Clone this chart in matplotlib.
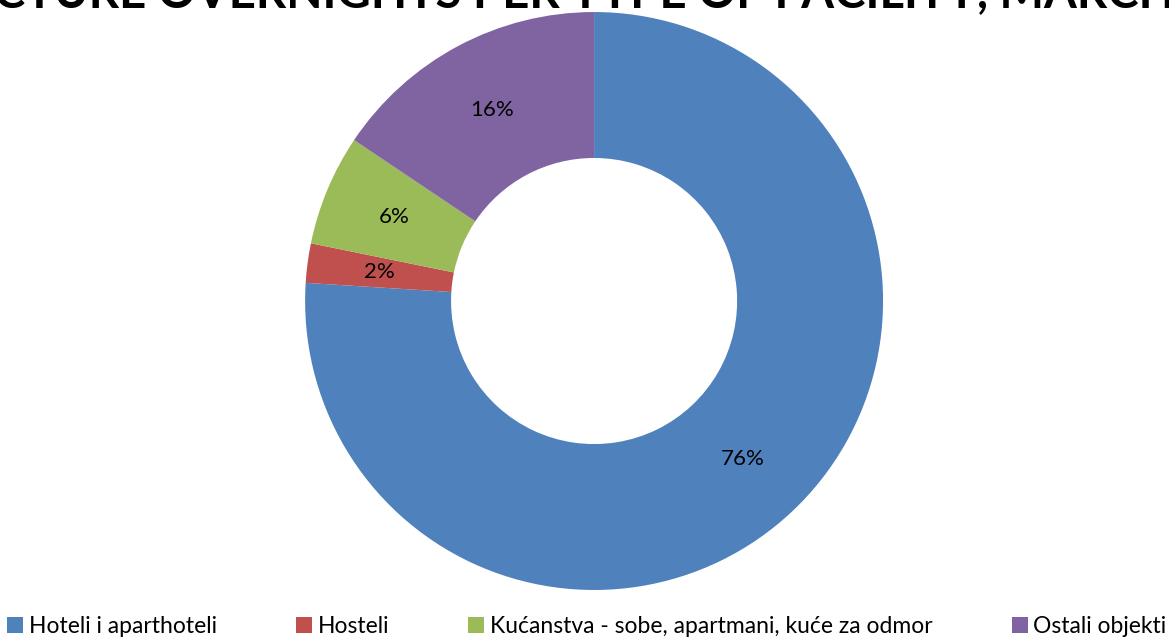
import matplotlib
matplotlib.use('Agg')
import matplotlib.pyplot as plt

# data
categories = ['Hoteli i aparthoteli', 'Hosteli',
              'Kućanstva - sobe, apartmani, kuće za odmor', 'Ostali objekti']
shares = [76.0, 2.2, 6.2, 15.6]
colors = ['#4F81BD', '#C0504D', '#9BBB59', '#8064A2']
title = 'STRUCTURE OVERNIGHTS PER TYPE OF FACILITY, MARCH 2014'

plt.rcParams['font.family'] = ['Lato', 'DejaVu Sans']

fig = plt.figure(figsize=(11.69, 6.38), dpi=100)
ax = fig.add_axes([0.261, 0.0752, 0.4944, 0.906])

wedges, texts, autotexts = ax.pie(
    shares, colors=colors, startangle=90, counterclock=False,
    radius=1, wedgeprops=dict(width=0.505, edgecolor='none'),
    autopct='%1.0f%%', pctdistance=0.75,
    textprops=dict(fontsize=16, color='black'))
ax.set_xlim(-1, 1)
ax.set_ylim(-1, 1)
ax.set_aspect('equal')
ax.axis('off')

fig.text(0.5, 1 - 7 / 638, title, ha='center', va='baseline',
         fontsize=34, fontweight='bold')

fig.legend(wedges, categories, loc='center', bbox_to_anchor=(0.502, 0.018),
           ncol=4, frameon=False, fontsize=16.5, handlelength=0.7,
           handleheight=0.7, handletextpad=0.25, columnspacing=3.45)

fig.savefig('out.png', dpi=100)
